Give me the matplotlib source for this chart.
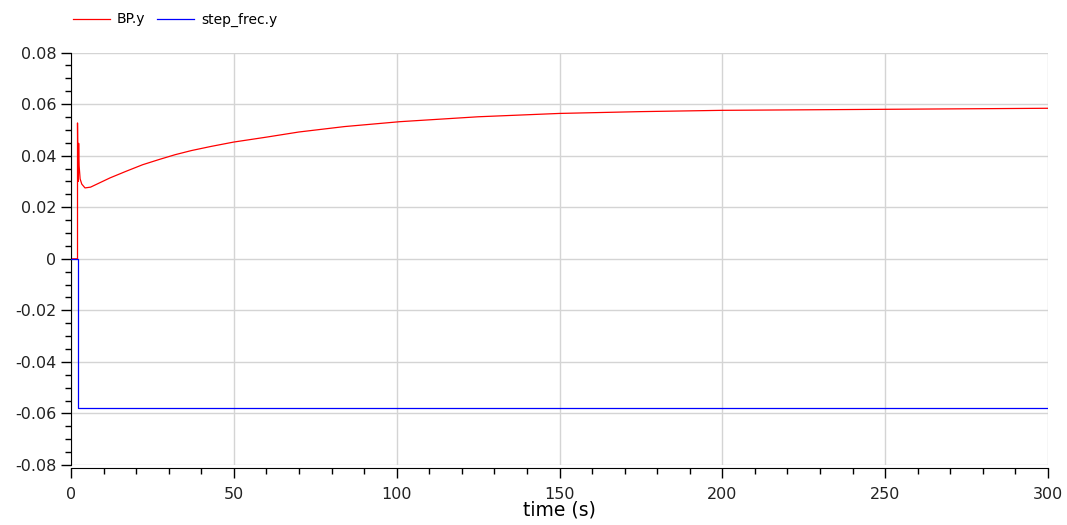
from matplotlib import pyplot as plt
from matplotlib.ticker import MultipleLocator, FuncFormatter

# datos
t_bp = [0, 2.0, 2.0, 2.15, 2.35, 2.5, 2.8, 3.3, 4.3, 6, 8, 12, 17, 22, 27, 32, 37, 43,
        50, 60, 70, 84, 101, 125, 150, 175, 200, 225, 250, 275, 300]
bp_y = [0, 0, 0.0527, 0.0300, 0.0448, 0.0360, 0.0310, 0.0290, 0.0275, 0.0278, 0.0290,
        0.0314, 0.0340, 0.0365, 0.0385, 0.0404, 0.0420, 0.0436, 0.0453, 0.0472, 0.0492,
        0.0513, 0.0532, 0.0551, 0.0564, 0.0571, 0.0576, 0.0578, 0.0580, 0.0582, 0.0584]

t_step = [0, 2.0, 2.0, 300]
step_y = [0, 0, -0.058, -0.058]

nombres = ["BP.y", "step_frec.y"]

fig = plt.figure(figsize=(10.67, 5.25), dpi=100)
ax = fig.add_axes([71/1067, 1 - 465/525, 977/1067, (465 - 52.6)/525])

l1, = ax.plot(t_bp, bp_y, color="#ff0000", lw=0.9, label=nombres[0], zorder=2)
l2, = ax.plot(t_step, step_y, color="#0000ff", lw=0.9, label=nombres[1], zorder=3)

ax.set_xlim(0, 300)
ax.set_ylim(-0.08, 0.08)
ax.xaxis.set_major_locator(MultipleLocator(50))
ax.xaxis.set_minor_locator(MultipleLocator(10))
ax.yaxis.set_major_locator(MultipleLocator(0.02))
ax.yaxis.set_minor_locator(MultipleLocator(0.005))
ax.yaxis.set_major_formatter(FuncFormatter(lambda v, p: "0" if abs(v) < 1e-9 else "%g" % round(v, 2)))

ax.grid(True, which="major", color="#d4d4d4", lw=1.0)
ax.set_axisbelow(True)
for s in ["top", "right"]:
    ax.spines[s].set_visible(False)
ax.spines["bottom"].set_position(("outward", 2))
ax.tick_params(which="major", length=7, width=1, labelsize=11.5, colors="black", labelcolor="#222222")
ax.tick_params(axis="x", which="major", pad=7)
ax.tick_params(which="minor", length=4, width=1)
ax.set_xlabel("time (s)", fontsize=13.5, labelpad=-1)

fig.legend(handles=[l1, l2], loc="upper left", bbox_to_anchor=(60/1067, 1.0), ncol=2,
           frameon=False, fontsize=10, handlelength=2.7, handletextpad=0.5, columnspacing=0.8)

plt.savefig("out.png", dpi=100)
